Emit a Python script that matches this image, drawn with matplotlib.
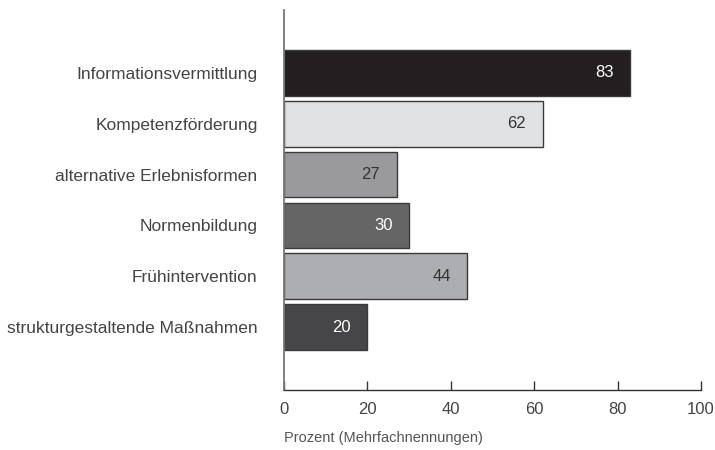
import matplotlib
matplotlib.use("Agg")
import matplotlib.pyplot as plt

categories = ["Informationsvermittlung", "Kompetenzförderung", "alternative Erlebnisformen",
              "Normenbildung", "Frühintervention", "strukturgestaltende Maßnahmen"]
values = [83, 62, 27, 30, 44, 20]
bar_colors = ["#231f20", "#e0e1e3", "#9a9a9d", "#656565", "#adaeb1", "#464648"]
label_colors = ["#ffffff", "#333333", "#333333", "#ffffff", "#333333", "#ffffff"]
xticks = [0, 20, 40, 60, 80, 100]
xlabel = "Prozent (Mehrfachnennungen)"

plt.rcParams['font.family'] = ['Liberation Sans', 'DejaVu Sans']

fig = plt.figure(figsize=(7.15, 4.5), dpi=100)
ax = fig.add_axes([284/715, 1-390/450, (701-284)/715, (390-10)/450])

pos = list(range(len(categories)))
ax.barh(pos, values, height=0.9, color=bar_colors, edgecolor="#3a3a3a", linewidth=1.0, zorder=2)
for p, v, c in zip(pos, values, label_colors):
    ax.annotate(str(v), (v, p), xytext=(-12, 0), textcoords="offset points",
                ha="right", va="center", fontsize=12, color=c, zorder=3)

ax.set_ylim(5 + 1.24, -1.24)
ax.set_xlim(0, 100)
ax.set_yticks(pos)
ax.set_yticklabels(categories, fontsize=12.5, color="#444444")
ax.tick_params(axis="y", length=0, pad=19)
ax.set_xticks(xticks)
ax.set_xticklabels([str(t) for t in xticks], fontsize=12, color="#444444")
ax.tick_params(axis="x", direction="in", length=6.5, width=1, color="#333333", pad=9)

for s in ["top", "right"]:
    ax.spines[s].set_visible(False)
ax.spines["left"].set_color("#777777")
ax.spines["left"].set_linewidth(1.3)
ax.spines["bottom"].set_color("#333333")
ax.spines["bottom"].set_linewidth(1.0)

fig.text(284/715, 1-438/450, xlabel, ha="left", va="center", fontsize=10.5, color="#555555")

fig.savefig("out.png", dpi=100)
